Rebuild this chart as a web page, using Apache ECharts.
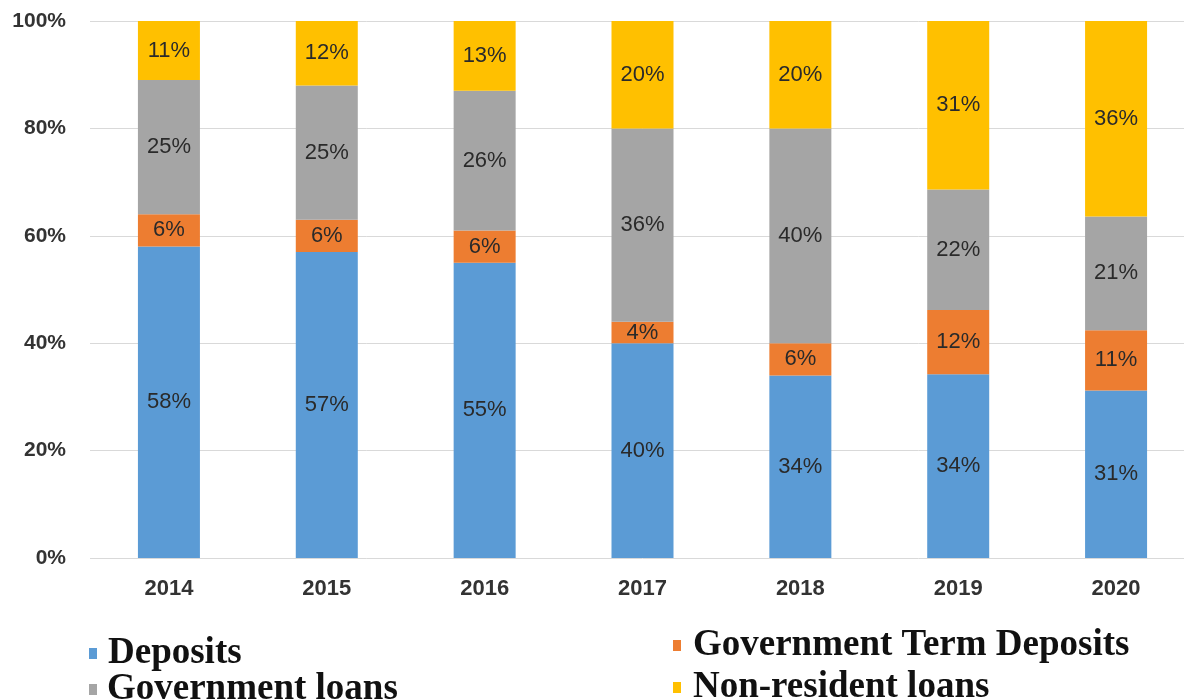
<!DOCTYPE html>
<html>
<head>
<meta charset="utf-8">
<script src="https://cdn.jsdelivr.net/npm/echarts@6/dist/echarts.min.js"></script>
<style>html,body{margin:0;padding:0;background:#fff;overflow:hidden}#c{width:1200px;height:699px}</style>
</head>
<body>
<div id="c"></div>
<script>
const years = ['2014','2015','2016','2017','2018','2019','2020'];
const deposits = [58, 57, 55, 40, 34, 34.2, 31.2];
const govTermDeposits = [6, 6, 6, 4, 6, 12, 11.2];
const govLoans = [25, 25, 26, 36, 40, 22.4, 21.2];
const nonResidentLoans = [11, 12, 13, 20, 20, 31.4, 36.4];
const yTicks = [0, 20, 40, 60, 80, 100];

const colors = ['#5B9BD5', '#ED7D31', '#A5A5A5', '#FFC000'];
const names = ['Deposits', 'Government Term Deposits', 'Government loans', 'Non-resident loans'];
const dataSets = [deposits, govTermDeposits, govLoans, nonResidentLoans];

const chart = echarts.init(document.getElementById('c'));
const legendText = {fontFamily: '"Liberation Serif","Times New Roman",serif', fontWeight: 'bold', fontSize: 37, color: '#111'};
function leg(name, left, top, gap) {
  return {data: [name], left: left, top: top, itemWidth: 8, itemHeight: 11, icon: 'rect', itemGap: 0,
    padding: 0, selectedMode: false, textStyle: Object.assign({}, legendText, {padding: [0,0,0,gap]})};
}
chart.setOption({
  animation: false,
  color: colors,
  grid: {left: 90, width: 1105, top: 21, bottom: 141},
  legend: [
    leg(names[0], 89, 635, 6),
    leg(names[2], 89, 671, 5),
    leg(names[1], 673, 627, 7),
    leg(names[3], 673, 669, 7)
  ],
  xAxis: {
    type: 'category', data: years,
    axisLine: {show: false}, axisTick: {show: false},
    axisLabel: {fontFamily: '"Liberation Sans",Arial,sans-serif', fontWeight: 'bold', fontSize: 22, color: '#333', margin: 20}
  },
  yAxis: {
    type: 'value', min: 0, max: 100, interval: 20,
    axisLine: {show: false}, axisTick: {show: false},
    splitLine: {lineStyle: {color: '#D9D9D9', width: 1}},
    axisLabel: {fontFamily: '"Liberation Sans",Arial,sans-serif', fontWeight: 'bold', fontSize: 21, color: '#333', margin: 24,
      formatter: v => yTicks.includes(v) ? v + '%' : ''}
  },
  series: dataSets.map((d, i) => ({
    name: names[i], type: 'bar', stack: 'total', barWidth: 62, data: d,
    label: {show: true, position: 'inside', fontFamily: '"Liberation Sans",Arial,sans-serif', fontSize: 22, color: '#2a2a2a',
      formatter: p => Math.round(p.value) + '%'}
  }))
});
</script>
</body>
</html>
